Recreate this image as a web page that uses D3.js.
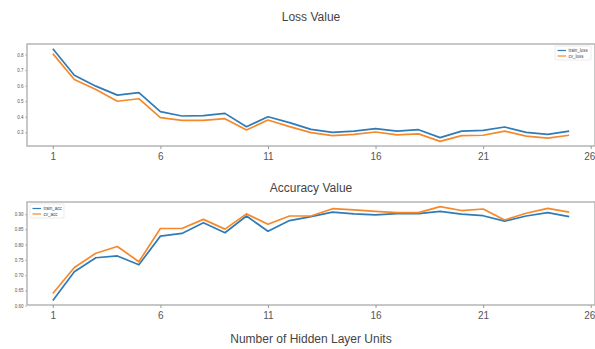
<!DOCTYPE html>
<html>
<head>
<meta charset="utf-8">
<script src="https://cdn.jsdelivr.net/npm/d3@7"></script>
<style>
  html, body { margin: 0; padding: 0; background: #fff; }
  svg { display: block; }
  text { font-family: "Liberation Sans", Arial, sans-serif; }
</style>
</head>
<body>
<svg id="chart" width="595" height="349"></svg>
<script>
// Hidden layer sizes tried (x axis)
const units = d3.range(1, 26);

// Loss per hidden-layer size
const trainLoss = [0.838, 0.667, 0.597, 0.539, 0.555, 0.433, 0.405, 0.407, 0.422, 0.336,
                   0.400, 0.362, 0.319, 0.300, 0.308, 0.324, 0.308, 0.317, 0.266, 0.308,
                   0.313, 0.334, 0.300, 0.287, 0.308];
const cvLoss    = [0.806, 0.640, 0.576, 0.500, 0.516, 0.394, 0.377, 0.377, 0.388, 0.315,
                   0.379, 0.337, 0.298, 0.279, 0.287, 0.302, 0.283, 0.290, 0.242, 0.279,
                   0.281, 0.308, 0.276, 0.263, 0.281];

// Accuracy per hidden-layer size
const trainAcc  = [0.617, 0.711, 0.757, 0.763, 0.734, 0.828, 0.837, 0.872, 0.839, 0.894,
                   0.844, 0.879, 0.892, 0.907, 0.901, 0.898, 0.902, 0.902, 0.909, 0.900,
                   0.895, 0.877, 0.894, 0.905, 0.892];
const cvAcc     = [0.640, 0.725, 0.772, 0.794, 0.744, 0.853, 0.853, 0.883, 0.851, 0.901,
                   0.867, 0.894, 0.894, 0.918, 0.914, 0.909, 0.905, 0.905, 0.925, 0.912,
                   0.917, 0.881, 0.903, 0.919, 0.907];

const xTicks = [1, 6, 11, 16, 21, 26];
const lossTicks = [0.3, 0.4, 0.5, 0.6, 0.7, 0.8];
const accTicks = [0.60, 0.65, 0.70, 0.75, 0.80, 0.85, 0.90];

const BLUE = "#2f7bb8";
const ORANGE = "#f5892a";
const SPINE = "#b0b0b0";
const TEXT = "#555";

const svg = d3.select("#chart");
const left = 27, right = 595;

// shared x scale with matplotlib-like margins
const x = d3.scaleLinear().domain([-0.2, 26.2]).range([left, right]);

function panel(opts) {
  const { top, bottom, yDomain, yTicks, yFmt, series, title, titleY, legendPos } = opts;
  const y = d3.scaleLinear().domain(yDomain).range([bottom, top]);
  const g = svg.append("g");

  // frame
  g.append("rect")
    .attr("x", left).attr("y", top)
    .attr("width", right - left).attr("height", bottom - top)
    .attr("fill", "none").attr("stroke", SPINE).attr("stroke-width", 1.4);

  // x axis
  const xa = g.append("g").attr("transform", `translate(0,${bottom})`)
    .call(d3.axisBottom(x).tickValues(xTicks).tickSize(3).tickPadding(4).tickFormat(d3.format("d")));
  xa.select(".domain").remove();
  xa.selectAll("line").attr("stroke", "#999");
  xa.selectAll("text").attr("fill", TEXT).style("font-size", "10px");
  // keep the last tick label inside the page edge
  xa.selectAll("text").filter(d => d === 26).attr("dx", "-1.5px");

  // y axis
  const ya = g.append("g").attr("transform", `translate(${left},0)`)
    .call(d3.axisLeft(y).tickValues(yTicks).tickSize(2).tickPadding(1.5).tickFormat(yFmt));
  ya.select(".domain").remove();
  ya.selectAll("line").attr("stroke", "#999").attr("stroke-width", 0.6);
  ya.selectAll("text").attr("fill", TEXT).style("font-size", "4.5px");

  // lines
  const line = d3.line().x((d, i) => x(units[i])).y(d => y(d));
  series.forEach(s => {
    g.append("path").datum(s.values)
      .attr("d", line)
      .attr("fill", "none")
      .attr("stroke", s.color)
      .attr("stroke-width", 1.7)
      .attr("stroke-linejoin", "round");
  });

  // title
  svg.append("text")
    .attr("x", (left + right) / 2).attr("y", titleY)
    .attr("text-anchor", "middle")
    .attr("fill", "#444")
    .style("font-size", "12px")
    .text(title);

  // legend
  const lg = g.append("g").attr("transform", `translate(${legendPos[0]},${legendPos[1]})`);
  lg.append("rect").attr("x", 0).attr("y", 0).attr("width", legendPos[2]).attr("height", 14)
    .attr("fill", "#fff").attr("stroke", "#ddd").attr("stroke-width", 0.6).attr("rx", 1);
  series.forEach((s, i) => {
    const yy = 4.5 + i * 5.5;
    lg.append("line").attr("x1", 2.5).attr("x2", 11).attr("y1", yy).attr("y2", yy)
      .attr("stroke", s.color).attr("stroke-width", 1.2);
    lg.append("text").attr("x", 13.5).attr("y", yy + 1.5)
      .attr("fill", "#444").style("font-size", "4.5px").text(s.name);
  });
}

panel({
  top: 44, bottom: 146,
  yDomain: [0.212, 0.868],
  yTicks: lossTicks, yFmt: d3.format(".1f"),
  series: [
    { name: "train_loss", values: trainLoss, color: BLUE },
    { name: "cv_loss", values: cvLoss, color: ORANGE }
  ],
  title: "Loss Value", titleY: 21,
  legendPos: [555, 46, 36]
});

panel({
  top: 202, bottom: 305,
  yDomain: [0.602, 0.940],
  yTicks: accTicks, yFmt: d3.format(".2f"),
  series: [
    { name: "train_acc", values: trainAcc, color: BLUE },
    { name: "cv_acc", values: cvAcc, color: ORANGE }
  ],
  title: "Accuracy Value", titleY: 192,
  legendPos: [30, 204, 34]
});

// shared x label
svg.append("text")
  .attr("x", (left + right) / 2).attr("y", 343)
  .attr("text-anchor", "middle")
  .attr("fill", "#444")
  .style("font-size", "12px")
  .text("Number of Hidden Layer Units");
</script>
</body>
</html>
